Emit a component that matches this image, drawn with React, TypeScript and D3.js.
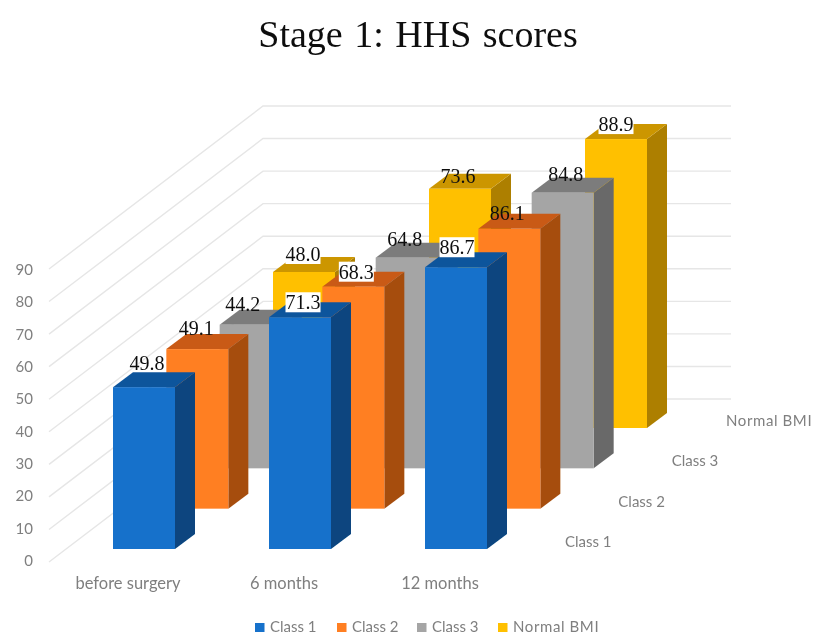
import React from "react";
import * as d3 from "d3";

const title = "Stage 1: HHS scores";
const categories = ["before surgery", "6 months", "12 months"];
const seriesNames = ["Class 1", "Class 2", "Class 3", "Normal BMI"];
const class1 = [49.8, 71.3, 86.7];
const class2 = [49.1, 68.3, 86.1];
const class3 = [44.2, 64.8, 84.8];
const normalBmi = [48.0, 73.6, 88.9];
const seriesValues = [class1, class2, class3, normalBmi];
const valueTicks = [0, 10, 20, 30, 40, 50, 60, 70, 80, 90];

const frontColors = ["#1771CB", "#FF7F24", "#A5A5A5", "#FFC000"];
const topColors = ["#11559C", "#C95A14", "#7C7C7C", "#CC9600"];
const sideColors = ["#07447F", "#A64D10", "#696969", "#AD7F00"];

// per-series, per-category nudges of the value labels [dx, dy] from the bar's top-centre
const labelNudge = [
  [[3, -24], [3, -15], [1, -20]],
  [[-1, -21], [3, -15], [-2, -16]],
  [[-8, -21], [-2, -19], [3, -19]],
  [[-1, -18], [-2, -13], [0, -15]],
];
const labelBacked = [
  [false, true, true],
  [false, true, false],
  [false, false, false],
  [true, false, true],
];

const W = 813;
const H = 635;
const barW = 62;
const depthX = 20;
const depthY = 15;

const xCat = d3.scaleLinear().domain([0, 2]).range([113, 425]);
const xDepth = d3.scaleLinear().domain([0, 3]).range([0, 160]);
const yDepth = d3.scaleLinear().domain([0, 3]).range([0, 121]);
const h = d3.scaleLinear().domain([0, 90]).range([0, 292.5]);
const tickY = d3.scaleLinear().domain([0, 90]).range([560, 269]);
const wallY = d3.scaleLinear().domain([0, 90]).range([399, 106]);
const floorY = d3.scaleLinear().domain([0, 90]).range([562, 269]);

const pts = (p: number[][]) => p.map((q) => q.join(",")).join(" ");

function Bar({ cat, s, v }: { cat: number; s: number; v: number }) {
  const x0 = xCat(cat) + xDepth(s);
  const x1 = x0 + barW;
  const yB = 549 - yDepth(s);
  const yT = yB - h(v);
  return (
    <g>
      <polygon points={pts([[x1, yB], [x1 + depthX, yB - depthY], [x1 + depthX, yT - depthY], [x1, yT]])} fill={sideColors[s]} />
      <polygon points={pts([[x0, yT], [x1, yT], [x1 + depthX, yT - depthY], [x0 + depthX, yT - depthY]])} fill={topColors[s]} />
      <rect x={x0} y={yT} width={barW} height={yB - yT} fill={frontColors[s]} />
    </g>
  );
}

export default function App() {
  const order = d3.range(seriesNames.length).reverse();
  return (
    <svg width={W} height={H} viewBox={`0 0 ${W} ${H}`} style={{ position: "absolute", left: 0, top: 0, background: "#fff" }}>
      <defs>
        <filter id="soft" x="-5%" y="-5%" width="110%" height="110%">
          <feGaussianBlur stdDeviation="0.6" />
        </filter>
      </defs>
      <g filter="url(#soft)">
        <text x={418} y={47} textAnchor="middle" fontFamily="'Liberation Serif'" fontSize={38} wordSpacing={2} fill="#111">{title}</text>

        {valueTicks.map((t) => (
          <g key={t}>
            <polyline points={pts([[49, floorY(t)], [263, wallY(t)], [731, wallY(t)]])} fill="none" stroke="#e6e6e6" strokeWidth={1.4} />
            <text x={33} y={tickY(t)} textAnchor="end" dominantBaseline="central" fontFamily="Lato" fontSize={15} fill="#7f7f7f">{t}</text>
          </g>
        ))}

        {order.map((s) => categories.map((c, i) => <Bar key={`${s}-${c}`} cat={i} s={s} v={seriesValues[s][i]} />))}

        {categories.map((c, i) => (
          <text key={c} x={xCat(i) + 15} y={583} textAnchor="middle" dominantBaseline="central" fontFamily="Lato" fontSize={16.5} fill="#7f7f7f">{c}</text>
        ))}
        {seriesNames.map((n, s) => (
          <text key={n} x={565 + xDepth(s) + (s === 3 ? 1 : 0)} y={541 - yDepth(s)} textAnchor="start" dominantBaseline="central" fontFamily="Lato" fontSize={15} letterSpacing={s === 3 ? 0.6 : 0} fill="#7f7f7f">{n}</text>
        ))}

        {seriesNames.map((n, s) => {
          const lx = [255, 337, 417, 498][s];
          return (
            <g key={n}>
              <rect x={lx} y={623} width={9.5} height={9} fill={frontColors[s]} />
              <text x={lx + 15} y={626} dominantBaseline="central" fontFamily="Lato" fontSize={15} letterSpacing={s === 3 ? 0.6 : 0} fill="#7f7f7f">{n}</text>
            </g>
          );
        })}

        {order.map((s) =>
          categories.map((c, i) => {
            const v = seriesValues[s][i];
            const cx = xCat(i) + xDepth(s) + barW / 2 + labelNudge[s][i][0];
            const cy = 549 - yDepth(s) - h(v) + labelNudge[s][i][1];
            return (
              <g key={`${s}-${c}-l`}>
                {labelBacked[s][i] && <rect x={cx - 17.5} y={cy - 10} width={35} height={20} fill="#fff" />}
                <text x={cx} y={cy} textAnchor="middle" dominantBaseline="central" fontFamily="'Liberation Serif'" fontSize={20} fill="#111">{v.toFixed(1)}</text>
              </g>
            );
          })
        )}
      </g>
    </svg>
  );
}
